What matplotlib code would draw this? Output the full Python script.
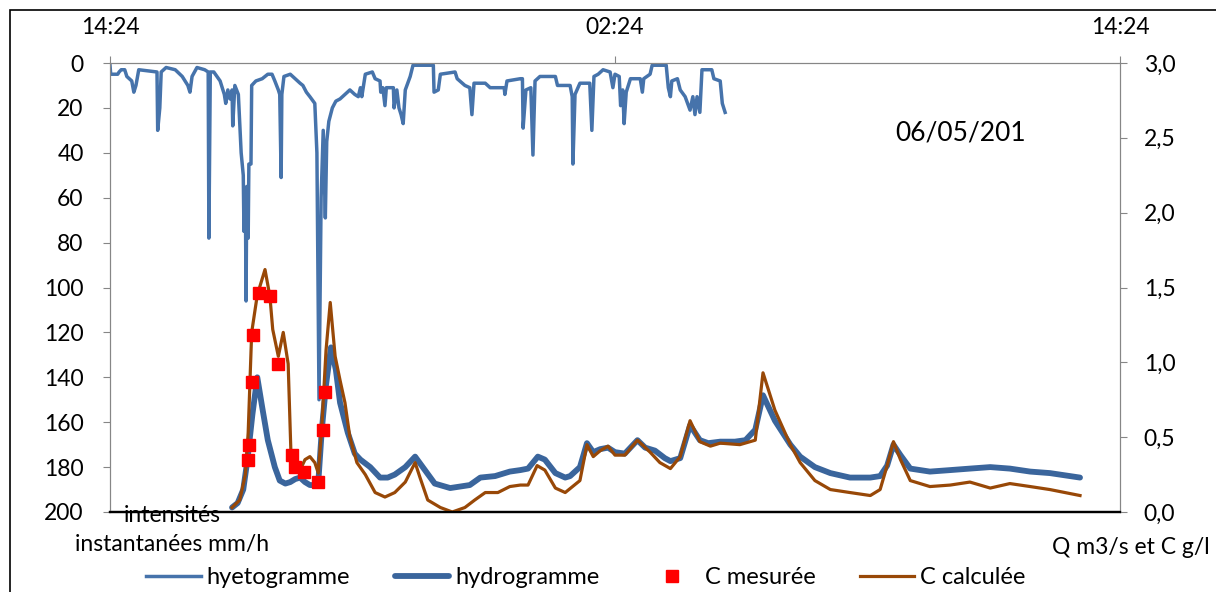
import numpy as np
import matplotlib.pyplot as plt
from matplotlib.patches import Rectangle

plt.rcParams['font.family'] = ['Lato', 'DejaVu Sans']

# time axis: minutes after 14:24 (0 .. 1440)
tick_pos = [0, 720, 1440]
tick_lab = ['14:24', '02:24', '14:24']

# hyetogramme, intensites instantanees (mm/h)
hyeto_t = [0, 1, 11, 13, 16, 21, 24, 31, 34, 37, 41, 67, 68, 71, 73, 80, 93, 103, 111, 114,
           117, 124, 135, 140, 141, 143, 148, 157, 163, 165, 168, 171, 174, 175, 178, 183, 187, 190, 191, 193,
           194, 195, 197, 198, 201, 202, 208, 217, 225, 231, 235, 240, 242, 244, 245, 248, 257, 264, 271, 275,
           280, 285, 292, 295, 298, 301, 304, 307, 309, 312, 317, 322, 328, 335, 342, 349, 354, 357, 359, 364,
           374, 378, 385, 386, 389, 392, 394, 404, 405, 409, 412, 415, 418, 421, 428, 432, 461, 462, 468, 471,
           492, 495, 506, 513, 516, 519, 535, 542, 562, 563, 566, 585, 588, 589, 593, 600, 603, 606, 613, 635,
           638, 656, 659, 660, 663, 670, 684, 687, 690, 696, 703, 713, 717, 720, 726, 728, 731, 733, 736, 742,
           756, 759, 761, 770, 773, 793, 796, 799, 801, 809, 813, 820, 827, 831, 834, 837, 841, 844, 858, 861,
           870, 873, 877]
hyeto_i = [1, 5, 5, 4, 3, 3, 6, 8, 13, 10, 3, 4, 30, 20, 4, 2, 3, 6, 10, 13,
           6, 2, 3, 4, 78, 4, 4, 8, 14, 18, 12, 16, 12, 28, 10, 14, 40, 50, 75, 60,
           106, 55, 78, 45, 45, 10, 8, 7, 5, 5, 8, 12, 14, 51, 14, 6, 5, 7, 9, 10,
           13, 15, 18, 40, 150, 60, 30, 69, 35, 26, 20, 17, 16, 14, 12, 14, 15, 11, 15, 5,
           4, 7, 8, 13, 11, 19, 11, 11, 20, 12, 20, 23, 27, 12, 6, 1, 1, 13, 12, 5,
           4, 7, 10, 11, 23, 9, 9, 11, 11, 14, 8, 7, 7, 29, 12, 11, 41, 8, 6, 6,
           10, 10, 15, 45, 14, 9, 9, 30, 6, 5, 3, 4, 11, 5, 6, 19, 12, 27, 13, 7,
           7, 13, 7, 5, 1, 1, 11, 15, 8, 7, 12, 15, 21, 15, 23, 15, 22, 3, 3, 7,
           8, 18, 22]

# hydrogramme Q (m3/s)
hydro_t = [174, 182, 190, 196, 203, 210, 217, 225, 235, 242, 250, 257, 264, 271, 278, 285, 292, 297, 302, 308,
           315, 322, 328, 339, 349, 357, 371, 385, 396, 406, 421, 435, 449, 463, 485, 513, 528, 549, 570, 585,
           596, 610, 620, 635, 649, 656, 670, 680, 689, 699, 710, 720, 734, 752, 763, 777, 791, 799, 813, 827,
           841, 853, 870, 891, 906, 920, 931, 948, 970, 984, 1005, 1027, 1055, 1084, 1098, 1108, 1117, 1127, 1141, 1169,
           1198, 1226, 1255, 1283, 1312, 1340, 1383]
hydro_q = [0.03, 0.06, 0.15, 0.35, 0.65, 0.90, 0.70, 0.48, 0.30, 0.21, 0.19, 0.20, 0.22, 0.23, 0.20, 0.18, 0.18, 0.20, 0.55, 0.85,
           1.10, 0.95, 0.73, 0.53, 0.39, 0.35, 0.30, 0.23, 0.23, 0.25, 0.30, 0.37, 0.28, 0.19, 0.16, 0.18, 0.23, 0.24, 0.27, 0.28,
           0.29, 0.37, 0.35, 0.26, 0.23, 0.24, 0.30, 0.46, 0.40, 0.42, 0.43, 0.40, 0.39, 0.48, 0.43, 0.41, 0.36, 0.34, 0.36, 0.58,
           0.48, 0.46, 0.47, 0.47, 0.48, 0.55, 0.78, 0.61, 0.45, 0.37, 0.30, 0.26, 0.23, 0.23, 0.24, 0.31, 0.45, 0.38, 0.29, 0.27,
           0.28, 0.29, 0.30, 0.29, 0.27, 0.26, 0.23]

# concentration calculee (g/l)
ccalc_t = [174, 185, 193, 197, 202, 210, 221, 228, 232, 240, 247, 254, 258, 264, 271, 278, 285, 292, 297, 302,
           308, 314, 321, 328, 335, 342, 352, 364, 378, 392, 406, 421, 435, 442, 453, 471, 488, 506, 520, 535,
           553, 570, 585, 596, 609, 620, 635, 649, 670, 680, 689, 699, 710, 720, 734, 752, 770, 784, 799, 813,
           827, 841, 856, 870, 898, 920, 931, 948, 970, 984, 1005, 1027, 1055, 1084, 1098, 1108, 1117, 1127, 1141, 1169,
           1198, 1226, 1255, 1283, 1312, 1340, 1383]
ccalc_c = [0.03, 0.08, 0.25, 0.53, 1.20, 1.45, 1.62, 1.44, 1.22, 1.04, 1.20, 0.99, 0.39, 0.28, 0.28, 0.35, 0.37, 0.33, 0.26, 0.57,
           1.08, 1.40, 1.04, 0.88, 0.73, 0.50, 0.33, 0.25, 0.13, 0.10, 0.13, 0.20, 0.33, 0.23, 0.08, 0.03, 0.00, 0.03, 0.08, 0.13,
           0.13, 0.17, 0.18, 0.18, 0.31, 0.28, 0.16, 0.13, 0.21, 0.45, 0.37, 0.41, 0.44, 0.38, 0.38, 0.48, 0.40, 0.33, 0.29, 0.37,
           0.61, 0.47, 0.44, 0.46, 0.45, 0.48, 0.93, 0.68, 0.45, 0.33, 0.21, 0.15, 0.13, 0.11, 0.15, 0.31, 0.47, 0.35, 0.21, 0.17,
           0.18, 0.20, 0.16, 0.19, 0.17, 0.15, 0.11]

# concentration mesuree (g/l)
cmes_t = [197, 198, 202, 204, 212, 228, 240, 260, 264, 277, 297, 304, 307]
cmes_c = [0.35, 0.45, 0.87, 1.18, 1.46, 1.44, 0.99, 0.38, 0.30, 0.27, 0.20, 0.55, 0.80]

fig = plt.figure(figsize=(12.16, 5.92), dpi=100)
ax = fig.add_axes([110/1216, 1-512/592, 1010/1216, 449/592])
ax2 = ax.twinx()

l1, = ax.plot(hyeto_t, hyeto_i, color='#4673AB', lw=2.5, label='hyetogramme')
ax.set_ylim(200, 0)
ax.set_xlim(0, 1440)
ax.set_yticks(np.arange(0, 201, 20))
ax.xaxis.tick_top()
ax.set_xticks(tick_pos)
ax.set_xticklabels(tick_lab)

l2, = ax2.plot(hydro_t, hydro_q, color='#3A659C', lw=4.2, label='hydrogramme', solid_capstyle='round')
l4, = ax2.plot(ccalc_t, ccalc_c, color='#984807', lw=2.3, label='C calculée')
l3, = ax2.plot(cmes_t, cmes_c, 's', color='#FF0000', ms=8.5, label='C mesurée', zorder=5)
ax2.set_ylim(0, 3)
ax2.set_yticks(np.arange(0, 3.01, 0.5))
ax2.set_yticklabels([f'{v:.1f}'.replace('.', ',') for v in np.arange(0, 3.01, 0.5)])

for a in (ax, ax2):
    for s in a.spines.values():
        s.set_color('#868686')
    a.spines['bottom'].set_color('black')
    a.spines['bottom'].set_linewidth(1.6)
    a.tick_params(colors='#868686', labelcolor='black', labelsize=16.5, length=5, direction='out')
ax.tick_params(axis='y', pad=14)
ax.tick_params(axis='x', pad=13)
ax2.tick_params(axis='y', pad=12)

ax.text(1212, 31, '06/05/201', fontsize=19, ha='center', va='center')
fig.text(172/1216, 1-505/592, 'intensités\ninstantanées mm/h', fontsize=16.5, ha='center', va='top',
         linespacing=1.5)
fig.text(1210/1216, 1-547/592, 'Q m3/s et C g/l', fontsize=16.5, ha='right', va='center')

fig.legend(handles=[l1, l2, l3, l4], loc='center', bbox_to_anchor=(0.482, 1-578/592), ncol=4,
           frameon=False, fontsize=17, handlelength=2.3, handletextpad=0.25, columnspacing=1.9)

fig.patches.append(Rectangle((10/1216, -0.1), 1.2, 1-10/592+0.1, transform=fig.transFigure,
                             fill=False, edgecolor='black', lw=1.2))

fig.savefig('out.png', dpi=100)
